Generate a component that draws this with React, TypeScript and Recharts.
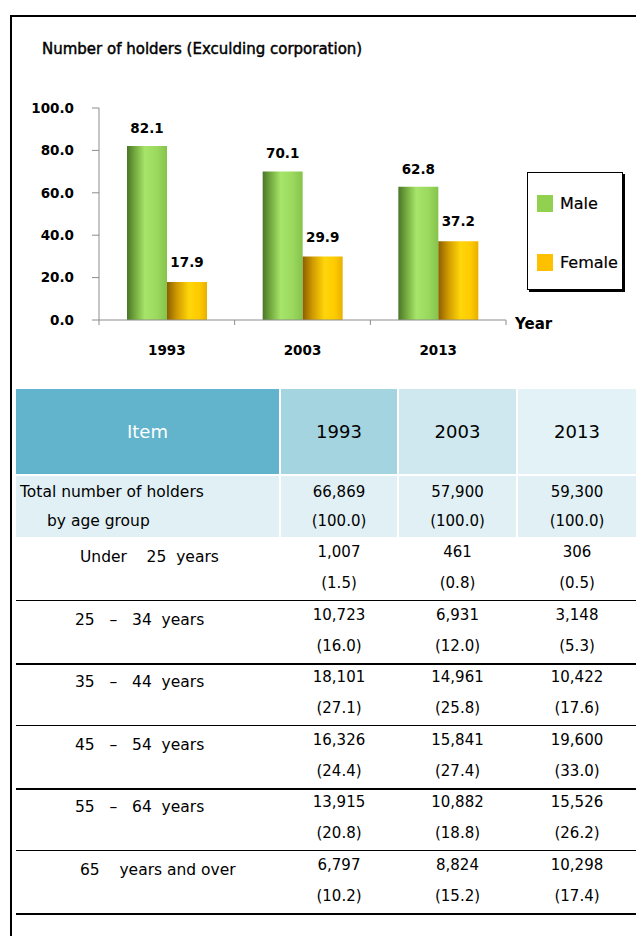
import React from "react";
import { BarChart, Bar, XAxis, YAxis, LabelList } from "recharts";

const years = ["1993", "2003", "2013"];
const seriesNames = ["Male", "Female"];
const maleShare = [82.1, 70.1, 62.8];
const femaleShare = [17.9, 29.9, 37.2];
const yTicks = [0, 20, 40, 60, 80, 100];

const totalHolders = ["66,869", "57,900", "59,300"];
const totalShare = ["(100.0)", "(100.0)", "(100.0)"];
const ageGroups = ["Under    25  years", "25   –   34  years", "35   –   44  years", "45   –   54  years", "55   –   64  years", "65    years and over"];
const ageCounts = [
  ["1,007", "461", "306"],
  ["10,723", "6,931", "3,148"],
  ["18,101", "14,961", "10,422"],
  ["16,326", "15,841", "19,600"],
  ["13,915", "10,882", "15,526"],
  ["6,797", "8,824", "10,298"],
];
const agePercents = [
  ["(1.5)", "(0.8)", "(0.5)"],
  ["(16.0)", "(12.0)", "(5.3)"],
  ["(27.1)", "(25.8)", "(17.6)"],
  ["(24.4)", "(27.4)", "(33.0)"],
  ["(20.8)", "(18.8)", "(26.2)"],
  ["(10.2)", "(15.2)", "(17.4)"],
];

const chartData = years.map((y, i) => ({ year: y, Male: maleShare[i], Female: femaleShare[i] }));

const FONT = "'DejaVu Sans', Verdana, sans-serif";
const swatch: Record<string, string> = { Male: "#92d050", Female: "#ffc000" };

const XTick = (props: any) => {
  const { x, y, payload, index, visibleTicksCount, width } = props;
  const half = payload && payload.offset ? payload.offset : width / (2 * visibleTicksCount);
  return (
    <g>
      <line x1={x - half} x2={x - half} y1={y} y2={y + 5} stroke="#8c8c8c" strokeWidth={1} />
      {index === visibleTicksCount - 1 && (
        <line x1={x + half} x2={x + half} y1={y} y2={y + 5} stroke="#8c8c8c" strokeWidth={1} />
      )}
      <text x={x} y={y + 30} textAnchor="middle" dominantBaseline="central" fontFamily={FONT} fontWeight="bold" fontSize={13.5} fill="#000">
        {payload.value}
      </text>
    </g>
  );
};

const colLefts = [16, 281, 399, 518];
const colWidths = [263, 116, 117, 118];
const headerBg = ["#62b4cc", "#a5d4e1", "#cfe8ef", "#e2f2f7"];

export default function App() {
  return (
    <div style={{ position: "absolute", left: 0, top: 0, width: 636, height: 936, background: "#fff", overflow: "hidden", fontFamily: FONT }}>
      {/* frame */}
      <div style={{ position: "absolute", left: 10, top: 15, width: 626, height: 2, background: "#000" }} />
      <div style={{ position: "absolute", left: 10, top: 15, width: 2, height: 921, background: "#000" }} />

      <div style={{ position: "absolute", left: 42, top: 40, fontSize: 15, color: "#000", whiteSpace: "nowrap", WebkitTextStroke: "0.45px #000" }}>
        Number of holders (Exculding corporation)
      </div>

      <div style={{ position: "absolute", left: 0, top: 0 }}>
        <BarChart width={636} height={380} data={chartData} margin={{ top: 108, right: 130, bottom: 20, left: 0 }} barGap={0} barSize={40}>
          <defs>
            <linearGradient id="maleGrad" x1="0" y1="0" x2="1" y2="0">
              <stop offset="0%" stopColor="#4a7529" />
              <stop offset="20%" stopColor="#74aa3e" />
              <stop offset="45%" stopColor="#a6e56a" />
              <stop offset="75%" stopColor="#9ad85e" />
              <stop offset="100%" stopColor="#86c34c" />
            </linearGradient>
            <linearGradient id="femaleGrad" x1="0" y1="0" x2="1" y2="0">
              <stop offset="0%" stopColor="#8a6000" />
              <stop offset="25%" stopColor="#d09a00" />
              <stop offset="55%" stopColor="#ffd60a" />
              <stop offset="80%" stopColor="#ffcb00" />
              <stop offset="100%" stopColor="#e8b000" />
            </linearGradient>
          </defs>
          <XAxis dataKey="year" height={40} tickLine={false} tickSize={0} tickMargin={0} axisLine={{ stroke: "#8c8c8c" }} tick={<XTick />} interval={0} />
          <YAxis
            width={99}
            domain={[0, 100]}
            ticks={yTicks}
            interval={0}
            tickFormatter={(v: number) => v.toFixed(1)}
            tickSize={7}
            tickMargin={18}
            axisLine={{ stroke: "#8c8c8c" }}
            tickLine={{ stroke: "#8c8c8c" }}
            tick={{ fill: "#000", fontFamily: FONT, fontWeight: "bold", fontSize: 13.5 }}
          />
          <Bar dataKey="Male" fill="url(#maleGrad)" isAnimationActive={false}>
            <LabelList dataKey="Male" position="top" offset={13} fill="#000" fontFamily={FONT} fontWeight="bold" fontSize={13.5} formatter={(v: any) => Number(v).toFixed(1)} />
          </Bar>
          <Bar dataKey="Female" fill="url(#femaleGrad)" isAnimationActive={false}>
            <LabelList dataKey="Female" position="top" offset={15} fill="#000" fontFamily={FONT} fontWeight="bold" fontSize={13.5} formatter={(v: any) => Number(v).toFixed(1)} />
          </Bar>
        </BarChart>
      </div>

      {/* legend */}
      <div style={{ position: "absolute", left: 527, top: 172, width: 96, height: 118, border: "1px solid #000", boxShadow: "2px 2px 0 #000", boxSizing: "border-box", background: "#fff" }}>
        {seriesNames.map((n, i) => (
          <div key={n} style={{ position: "absolute", left: 9, top: 21 + i * 59, display: "flex", alignItems: "center" }}>
            <div style={{ width: 16, height: 17, background: swatch[n] }} />
            <span style={{ marginLeft: 7, fontSize: 16, color: "#000", WebkitTextStroke: "0.2px #000" }}>{n}</span>
          </div>
        ))}
      </div>

      <div style={{ position: "absolute", left: 515, top: 315, fontSize: 15, fontWeight: "bold", color: "#000" }}>Year</div>

      {/* table header */}
      {["Item", ...years].map((t, i) => (
        <div
          key={"h" + i}
          style={{
            position: "absolute",
            left: colLefts[i],
            top: 389,
            width: colWidths[i],
            height: 85,
            background: headerBg[i],
            display: "flex",
            alignItems: "center",
            justifyContent: "center",
            fontSize: 18,
            color: i === 0 ? "#fff" : "#000",
          }}
        >
          {t}
        </div>
      ))}

      {/* total row */}
      {[0, 1, 2, 3].map((i) => (
        <div key={"t" + i} style={{ position: "absolute", left: colLefts[i], top: 476, width: colWidths[i], height: 61, background: "#e1f0f5" }} />
      ))}
      <div style={{ position: "absolute", left: 20, top: 481, fontSize: 15.5, lineHeight: "22px", color: "#000", whiteSpace: "nowrap" }}>Total number of holders</div>
      <div style={{ position: "absolute", left: 47, top: 510, fontSize: 15.5, lineHeight: "22px", color: "#000", whiteSpace: "nowrap" }}>by age group</div>
      {years.map((_, j) => (
        <React.Fragment key={"tv" + j}>
          <div style={{ position: "absolute", left: colLefts[j + 1], width: colWidths[j + 1], top: 481, textAlign: "center", fontSize: 15, lineHeight: "22px" }}>{totalHolders[j]}</div>
          <div style={{ position: "absolute", left: colLefts[j + 1], width: colWidths[j + 1], top: 510, textAlign: "center", fontSize: 15, lineHeight: "22px" }}>{totalShare[j]}</div>
        </React.Fragment>
      ))}

      {/* age rows */}
      {ageGroups.map((g, r) => {
        const top = 538 + r * 62.5;
        return (
          <React.Fragment key={"r" + r}>
            <div style={{ position: "absolute", left: r >= 1 && r <= 4 ? 75 : 80, top: top + 8, fontSize: 15.5, lineHeight: "22px", whiteSpace: "pre", color: "#000" }}>{g}</div>
            {years.map((_, j) => (
              <React.Fragment key={"c" + j}>
                <div style={{ position: "absolute", left: colLefts[j + 1], width: colWidths[j + 1], top: top + 3, textAlign: "center", fontSize: 15, lineHeight: "22px" }}>{ageCounts[r][j]}</div>
                <div style={{ position: "absolute", left: colLefts[j + 1], width: colWidths[j + 1], top: top + 34, textAlign: "center", fontSize: 15, lineHeight: "22px" }}>{agePercents[r][j]}</div>
              </React.Fragment>
            ))}
            <div style={{ position: "absolute", left: 16, top: top + 62, width: 620, height: r % 2 === 1 ? 2 : 1, background: "#000" }} />
          </React.Fragment>
        );
      })}
    </div>
  );
}
